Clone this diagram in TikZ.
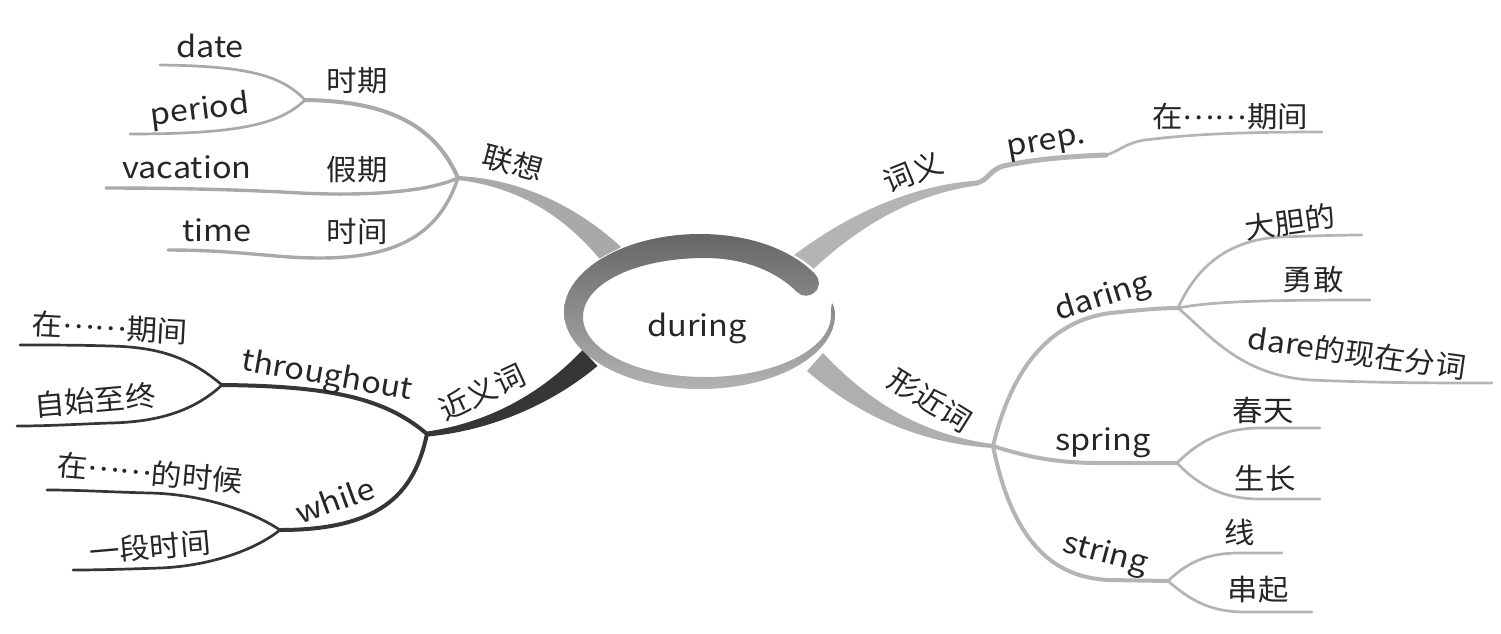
\documentclass[tikz,border=0pt]{standalone}
\usepackage{fontspec}
\setmainfont{Noto Sans CJK SC}[FakeStretch=1.05]
\newfontfamily\lat{Noto Sans CJK SC}[FakeStretch=1.1]
\newcommand\midell{\raisebox{0.3em}{……}}
\definecolor{lgA}{HTML}{A9A9A9}
\definecolor{lgB}{HTML}{B4B4B4}
\definecolor{lgC}{HTML}{AFAFAF}
\definecolor{dkC}{HTML}{363636}
\definecolor{txt}{HTML}{262626}
\begin{document}
\begin{tikzpicture}[x=1pt,y=-1pt,
  lbl/.style={inner sep=0pt, text=txt, font=\fontsize{29}{34}\selectfont},
  ll/.style={inner sep=0pt, text=txt, font=\lat\fontsize{29.5}{34}\selectfont},
  brA/.style={draw=lgA, line cap=round, line join=round},
  brB/.style={draw=lgB, line cap=round, line join=round},
  brD/.style={draw=dkC, line cap=round, line join=round},
  midw/.style={line width=4pt},
  longw/.style={line width=3.4pt},
  leafw/.style={line width=2.7pt}]
\useasboundingbox (0,0) rectangle (1501,633);

% ---------- tapered main branches ----------
\fill[lgA] (458,176) .. controls (521,179) and (578,207) .. (621,247) -- (603,263) .. controls (566,217) and (519,187) .. (458,180) -- cycle;
\fill[lgB] (977,180.5) .. controls (911.5,185.5) and (846.7,214) .. (789,259) -- (805,277) .. controls (857.3,226) and (912.5,194.5) .. (977,185.5) -- cycle;
\fill[lgC] (993,444) .. controls (931,436) and (875.5,409) .. (823,353) -- (807,371) .. controls (864.5,421) and (929,444) .. (993,448) -- cycle;
\fill[dkC] (427,431.5) .. controls (479.6,424) and (535.2,400) .. (582.5,350) -- (597.5,366) .. controls (544.8,410) and (480.4,432) .. (427,436.5) -- cycle;

% ---------- central ring ----------
\fill[white] (700,311) ellipse [x radius=135pt, y radius=78pt];
\shade[top color=black!60, bottom color=black!30]
  (815,274) .. controls (792,250) and (750,234) .. (700,234)
  .. controls (625,234) and (564,270) .. (564,312)
  .. controls (564,354) and (625,389) .. (700,389)
  .. controls (775,389) and (835,355) .. (835,315)
  .. controls (835,310) and (834,306) .. (832,303)
  .. controls (831,307) and (831,311) .. (831,315)
  .. controls (831,350) and (773,377) .. (705,377)
  .. controls (637,377) and (583,350) .. (583,317)
  .. controls (583,283) and (637,258) .. (705,258)
  .. controls (742,258) and (775,270) .. (797,292)
  .. controls (802,297) and (810,297) .. (815,292)
  .. controls (820.5,287) and (820,279) .. (815,274) -- cycle;
\node[ll] (during) at (697,328) {during};

% ---------- upper left: 联想 ----------
\coordinate (J1) at (458,178);
\coordinate (J11) at (305,100);
\coordinate (eDate) at (160,65);
\coordinate (ePeriod) at (130,134);
\coordinate (eVac) at (106,188);
\coordinate (eTime) at (168,250);
\draw[brA, midw] (J1) .. controls (437,130) and (395,101) .. (J11);
\draw[brA, leafw] (J11) .. controls (282,76) and (250,66) .. (eDate);
\draw[brA, leafw] (J11) .. controls (280,124) and (240,134) .. (ePeriod);
\draw[brA, longw] (J1) .. controls (425,193) and (360,196) .. (300,193) .. controls (250,190) and (180,188) .. (eVac);
\draw[brA, longw] (J1) .. controls (440,232) and (400,258) .. (320,258) .. controls (272,258) and (240,250) .. (eTime);
\node[lbl, rotate=-15] (lianxiang) at (513,163) {联想};
\node[lbl] (shiqi) at (357,81) {时期};
\node[ll] (date) at (210,46) {date};
\node[ll, rotate=7] (period) at (200,111) {period};
\node[lbl] (jiaqi) at (357,170) {假期};
\node[ll] (vacation) at (187,167) {vacation};
\node[lbl] (shijian) at (357,232) {时间};
\node[ll] (time) at (217,230) {time};

% ---------- lower left: 近义词 ----------
\coordinate (J2) at (427,434);
\coordinate (J21) at (222,385);
\coordinate (J22) at (280,530);
\coordinate (eZai1) at (20,345);
\coordinate (eZishi) at (17,426);
\coordinate (eZai2) at (47,490);
\coordinate (eYiduan) at (73,570);
\draw[brD, midw] (J2) .. controls (385,398) and (330,386) .. (J21);
\draw[brD, leafw] (J21) .. controls (190,358) and (160,347) .. (110,346) .. controls (80,345) and (50,345) .. (eZai1);
\draw[brD, leafw] (J21) .. controls (195,410) and (160,422) .. (110,423) .. controls (80,424) and (50,426) .. (eZishi);
\draw[brD, midw] (J2) .. controls (415,490) and (385,530) .. (J22);
\draw[brD, leafw] (J22) .. controls (250,510) and (200,494) .. (150,493) .. controls (110,492) and (80,490) .. (eZai2);
\draw[brD, leafw] (J22) .. controls (255,550) and (210,566) .. (160,568) .. controls (130,569) and (100,570) .. (eYiduan);
\node[lbl, rotate=25] (jinyici) at (482,392) {近义词};
\node[ll, rotate=-10] (throughout) at (327,377) {throughout};
\node[lbl, rotate=-3] (zai1) at (110,328) {在\midell 期间};
\node[lbl, rotate=5] (zishi) at (95,400) {自始至终};
\node[ll, rotate=20] (while) at (335,500) {while};
\node[lbl, rotate=-5] (zai2) at (150,473) {在\midell 的时候};
\node[lbl, rotate=5] (yiduan) at (150,547) {一段时间};

% ---------- upper right: 词义 ----------
\coordinate (Jci) at (977,183);
\coordinate (Jprep) at (1106,155);
\coordinate (eZai3) at (1322,132);
\draw[brB, line width=5pt] (Jci) .. controls (988,180) and (990,170) .. (1003,166) .. controls (1040,158) and (1080,156) .. (Jprep);
\draw[brB, leafw] (Jprep) .. controls (1118,152) and (1125,143) .. (1145,140) .. controls (1200,133) and (1260,132) .. (eZai3);
\node[lbl, rotate=22] (ciyi) at (913,172) {词义};
\node[ll, rotate=10] (prep) at (1047,145) {prep.};
\node[lbl] (zai3) at (1230,117) {在\midell 期间};

% ---------- lower right: 形近词 ----------
\coordinate (J3) at (993,446);
\coordinate (J31) at (1178,308);
\coordinate (J32) at (1177,463);
\coordinate (J33) at (1168,581);
\coordinate (eDadan) at (1362,235);
\coordinate (eYonggan) at (1370,300);
\coordinate (eDare) at (1492,383);
\coordinate (eChun) at (1320,428);
\coordinate (eSheng) at (1320,499);
\coordinate (eXian) at (1282,553);
\coordinate (eChuan) at (1312,612);
\draw[brB, midw] (J3) .. controls (1010,375) and (1045,322) .. (1110,313) .. controls (1140,310) and (1160,308) .. (J31);
\draw[brB, leafw] (J31) .. controls (1195,270) and (1225,240) .. (1280,237) .. controls (1310,236) and (1340,235) .. (eDadan);
\draw[brB, leafw] (J31) .. controls (1210,302) and (1250,300) .. (eYonggan);
\draw[brB, leafw] (J31) .. controls (1210,335) and (1240,375) .. (1310,380) .. controls (1380,383) and (1440,383) .. (eDare);
\draw[brB, midw] (J3) .. controls (1030,458) and (1060,463) .. (1100,463) -- (J32);
\draw[brB, leafw] (J32) .. controls (1200,440) and (1225,428) .. (1260,428) -- (eChun);
\draw[brB, leafw] (J32) .. controls (1200,487) and (1225,499) .. (1260,499) -- (eSheng);
\draw[brB, midw] (J3) .. controls (1010,530) and (1045,578) .. (1110,580) -- (J33);
\draw[brB, leafw] (J33) .. controls (1190,560) and (1210,553) .. (1240,553) -- (eXian);
\draw[brB, leafw] (J33) .. controls (1190,600) and (1210,612) .. (1245,612) -- (eChuan);
\node[lbl, rotate=-32] (xingjinci) at (930,400) {形近词};
\node[ll, rotate=17] (daring) at (1103,298) {daring};
\node[lbl, rotate=8] (dadan) at (1290,222) {大胆的};
\node[lbl] (yonggan) at (1313,280) {勇敢};
\node[lbl, rotate=-8] (dare) at (1357,353) {{\lat dare}的现在分词};
\node[ll] (spring) at (1103,443) {spring};
\node[lbl] (chuntian) at (1263,410) {春天};
\node[lbl] (shengzhang) at (1265,478) {生长};
\node[ll, rotate=-15] (string) at (1105,555) {string};
\node[lbl] (xian) at (1240,532) {线};
\node[lbl] (chuanqi) at (1258,590) {串起};
\end{tikzpicture}
\end{document}
